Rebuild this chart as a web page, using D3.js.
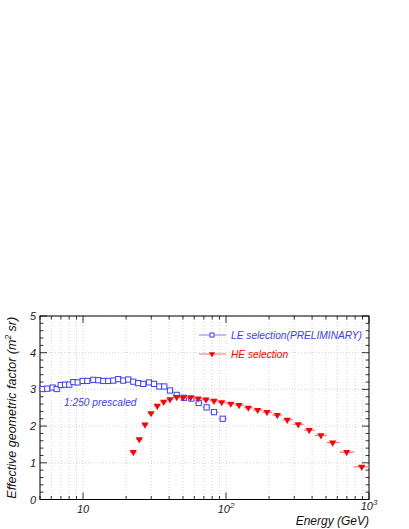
<!DOCTYPE html>
<html><head><meta charset="utf-8">
<script src="https://cdn.jsdelivr.net/npm/d3@7"></script>
<style>body{margin:0;background:#fff}text{font-family:"Liberation Sans",Arial,sans-serif;font-style:italic}</style>
</head><body><div id="chart"></div>
<script>
const leEnergy = [5.22,5.62,6.13,6.54,6.98,7.48,8.01,8.55,9.17,9.94,10.71,11.80,12.78,13.86,15.01,16.27,17.63,19.11,20.71,22.45,24.33,26.37,28.92,31.34,34.15,37.00,40.56,45.18,50.8,57.2,64.4,73.2,82.4,94.8];
const leValue = [3.01,3.02,3.05,3.01,3.12,3.13,3.13,3.20,3.19,3.23,3.23,3.26,3.25,3.23,3.23,3.24,3.28,3.24,3.27,3.21,3.17,3.15,3.19,3.15,3.08,3.08,2.97,2.85,2.77,2.75,2.63,2.51,2.38,2.20];
const heEnergy = [22.45,24.74,27.12,29.87,33.06,36.64,40.56,45.18,50.2,56.6,63.9,72.4,82.4,93.2,107.9,123.3,143.2,166.5,193.4,228.2,268,320,382,461,557,698,889];
const heValue = [1.29,1.64,2.04,2.35,2.55,2.66,2.73,2.79,2.78,2.78,2.75,2.72,2.69,2.65,2.61,2.57,2.50,2.44,2.38,2.30,2.17,2.05,1.89,1.75,1.55,1.29,0.89];
const yTicks = [0,1,2,3,4,5];
const xLabelTicks = [10,100,1000];
const seriesNames = ["LE selection(PRELIMINARY)","HE selection"];
const annotation = "1:250 prescaled";

const W=409,H=529, L=40,R=369,T=316,B=499.5;
const blue="#3c3cff", red="#ff0000";
const svg=d3.select("#chart").append("svg").attr("width",W).attr("height",H);
const x=d3.scaleLog().domain([5,1000]).range([L,R]);
const y=d3.scaleLinear().domain([0,5]).range([B,T]);

const xgv=[5,6,7,8,9,10,20,30,40,50,60,70,80,90,100,200,300,400,500,600,700,800,900,1000];
const g=svg.append("g");
g.selectAll(".vg").data(xgv).join("line").attr("x1",d=>x(d)).attr("x2",d=>x(d)).attr("y1",T).attr("y2",B)
 .attr("stroke","#c8c8c8").attr("stroke-width",0.8).attr("stroke-dasharray","1,2");
g.selectAll(".hg").data(yTicks).join("line").attr("x1",L).attr("x2",R).attr("y1",d=>y(d)).attr("y2",d=>y(d))
 .attr("stroke","#c8c8c8").attr("stroke-width",0.8).attr("stroke-dasharray","1,2");

const minorY=d3.range(0,5.001,0.2);
minorY.forEach(v=>{
  const major=Math.abs(v-Math.round(v))<1e-6;
  const len=major?7:3.5;
  svg.append("line").attr("x1",L).attr("x2",L+len).attr("y1",y(v)).attr("y2",y(v)).attr("stroke","#000").attr("stroke-width",0.8);
  svg.append("line").attr("x1",R).attr("x2",R-len).attr("y1",y(v)).attr("y2",y(v)).attr("stroke","#000").attr("stroke-width",0.8);
});
xgv.forEach(v=>{
  const major=xLabelTicks.includes(v);
  const len=major?7:3.5;
  svg.append("line").attr("x1",x(v)).attr("x2",x(v)).attr("y1",B).attr("y2",B-len).attr("stroke","#000").attr("stroke-width",0.8);
  svg.append("line").attr("x1",x(v)).attr("x2",x(v)).attr("y1",T).attr("y2",T+len).attr("stroke","#000").attr("stroke-width",0.8);
});
svg.append("rect").attr("x",L).attr("y",T).attr("width",R-L).attr("height",B-T).attr("fill","none").attr("stroke","#000").attr("stroke-width",1);

svg.selectAll(".yl").data(yTicks).join("text").attr("x",L-4).attr("y",d=>y(d)+4).attr("text-anchor","end")
 .attr("font-size",11).attr("fill","#222").text(d=>d);
const xl=svg.selectAll(".xl").data(xLabelTicks).join("text").attr("x",d=>x(d)).attr("y",d=>d===1000?510:513).attr("text-anchor","middle")
 .attr("font-size",11).attr("fill","#222");
xl.each(function(d){
  const t=d3.select(this);
  t.text("10");
  if(d!==10){t.append("tspan").attr("dy",-5).attr("font-size",8).text(d===100?"2":"3");}
});

svg.append("text").attr("transform",`translate(16,${(T+B)/2}) rotate(-90)`).attr("text-anchor","middle")
 .attr("font-size",12.5).attr("fill","#111")
 .html('Effective geometric factor (m<tspan dy="-5" font-size="8.5">2</tspan><tspan dy="5"> sr)</tspan>');
svg.append("text").attr("x",R).attr("y",525).attr("text-anchor","end").attr("font-size",12).attr("fill","#111").text("Energy (GeV)");

function edges(arr){
  return arr.map((v,i)=>{
    const lo = i>0 ? Math.sqrt(arr[i-1]*v) : v*v/Math.sqrt(v*arr[i+1]);
    const hi = i<arr.length-1 ? Math.sqrt(arr[i+1]*v) : v*v/Math.sqrt(v*arr[i-1]);
    return [lo,hi];
  });
}
const leE=edges(leEnergy), heE=edges(heEnergy);
const plot=svg.append("g");
plot.selectAll(".lebar").data(leEnergy).join("line").attr("x1",(d,i)=>x(leE[i][0])).attr("x2",(d,i)=>Math.min(R,x(leE[i][1])))
 .attr("y1",(d,i)=>y(leValue[i])).attr("y2",(d,i)=>y(leValue[i])).attr("stroke","#8080ff").attr("stroke-width",1);
plot.selectAll(".lept").data(leEnergy).join("rect").attr("x",d=>x(d)-2.6).attr("y",(d,i)=>y(leValue[i])-2.6)
 .attr("width",5.2).attr("height",5.2).attr("fill","#fff").attr("stroke",blue).attr("stroke-width",1);
plot.selectAll(".hebar").data(heEnergy).join("line").attr("x1",(d,i)=>x(heE[i][0])).attr("x2",(d,i)=>Math.min(R,x(heE[i][1])))
 .attr("y1",(d,i)=>y(heValue[i])).attr("y2",(d,i)=>y(heValue[i])).attr("stroke","#ff7070").attr("stroke-width",1.2);
const tri=d3.symbol().type(d3.symbolTriangle).size(22);
plot.selectAll(".hept").data(heEnergy).join("path").attr("d",tri)
 .attr("transform",(d,i)=>`translate(${x(d)},${y(heValue[i])}) rotate(180)`).attr("fill",red);

const lg=svg.append("g");
lg.append("line").attr("x1",199).attr("x2",226).attr("y1",335).attr("y2",335).attr("stroke","#8080ff").attr("stroke-width",1);
lg.append("rect").attr("x",210).attr("y",333).attr("width",4).attr("height",4).attr("fill","#fff").attr("stroke",blue);
lg.append("text").attr("x",231).attr("y",339).attr("font-size",10.2).attr("fill",blue).text(seriesNames[0]);
lg.append("line").attr("x1",199).attr("x2",226).attr("y1",354).attr("y2",354).attr("stroke","#ff7070").attr("stroke-width",1);
lg.append("path").attr("d",d3.symbol().type(d3.symbolTriangle).size(16)).attr("transform","translate(212,354) rotate(180)").attr("fill",red);
lg.append("text").attr("x",231).attr("y",358).attr("font-size",10.2).attr("fill",red).text(seriesNames[1]);

svg.append("text").attr("x",64).attr("y",406).attr("font-size",10.2).attr("fill",blue).text(annotation);
</script></body></html>
